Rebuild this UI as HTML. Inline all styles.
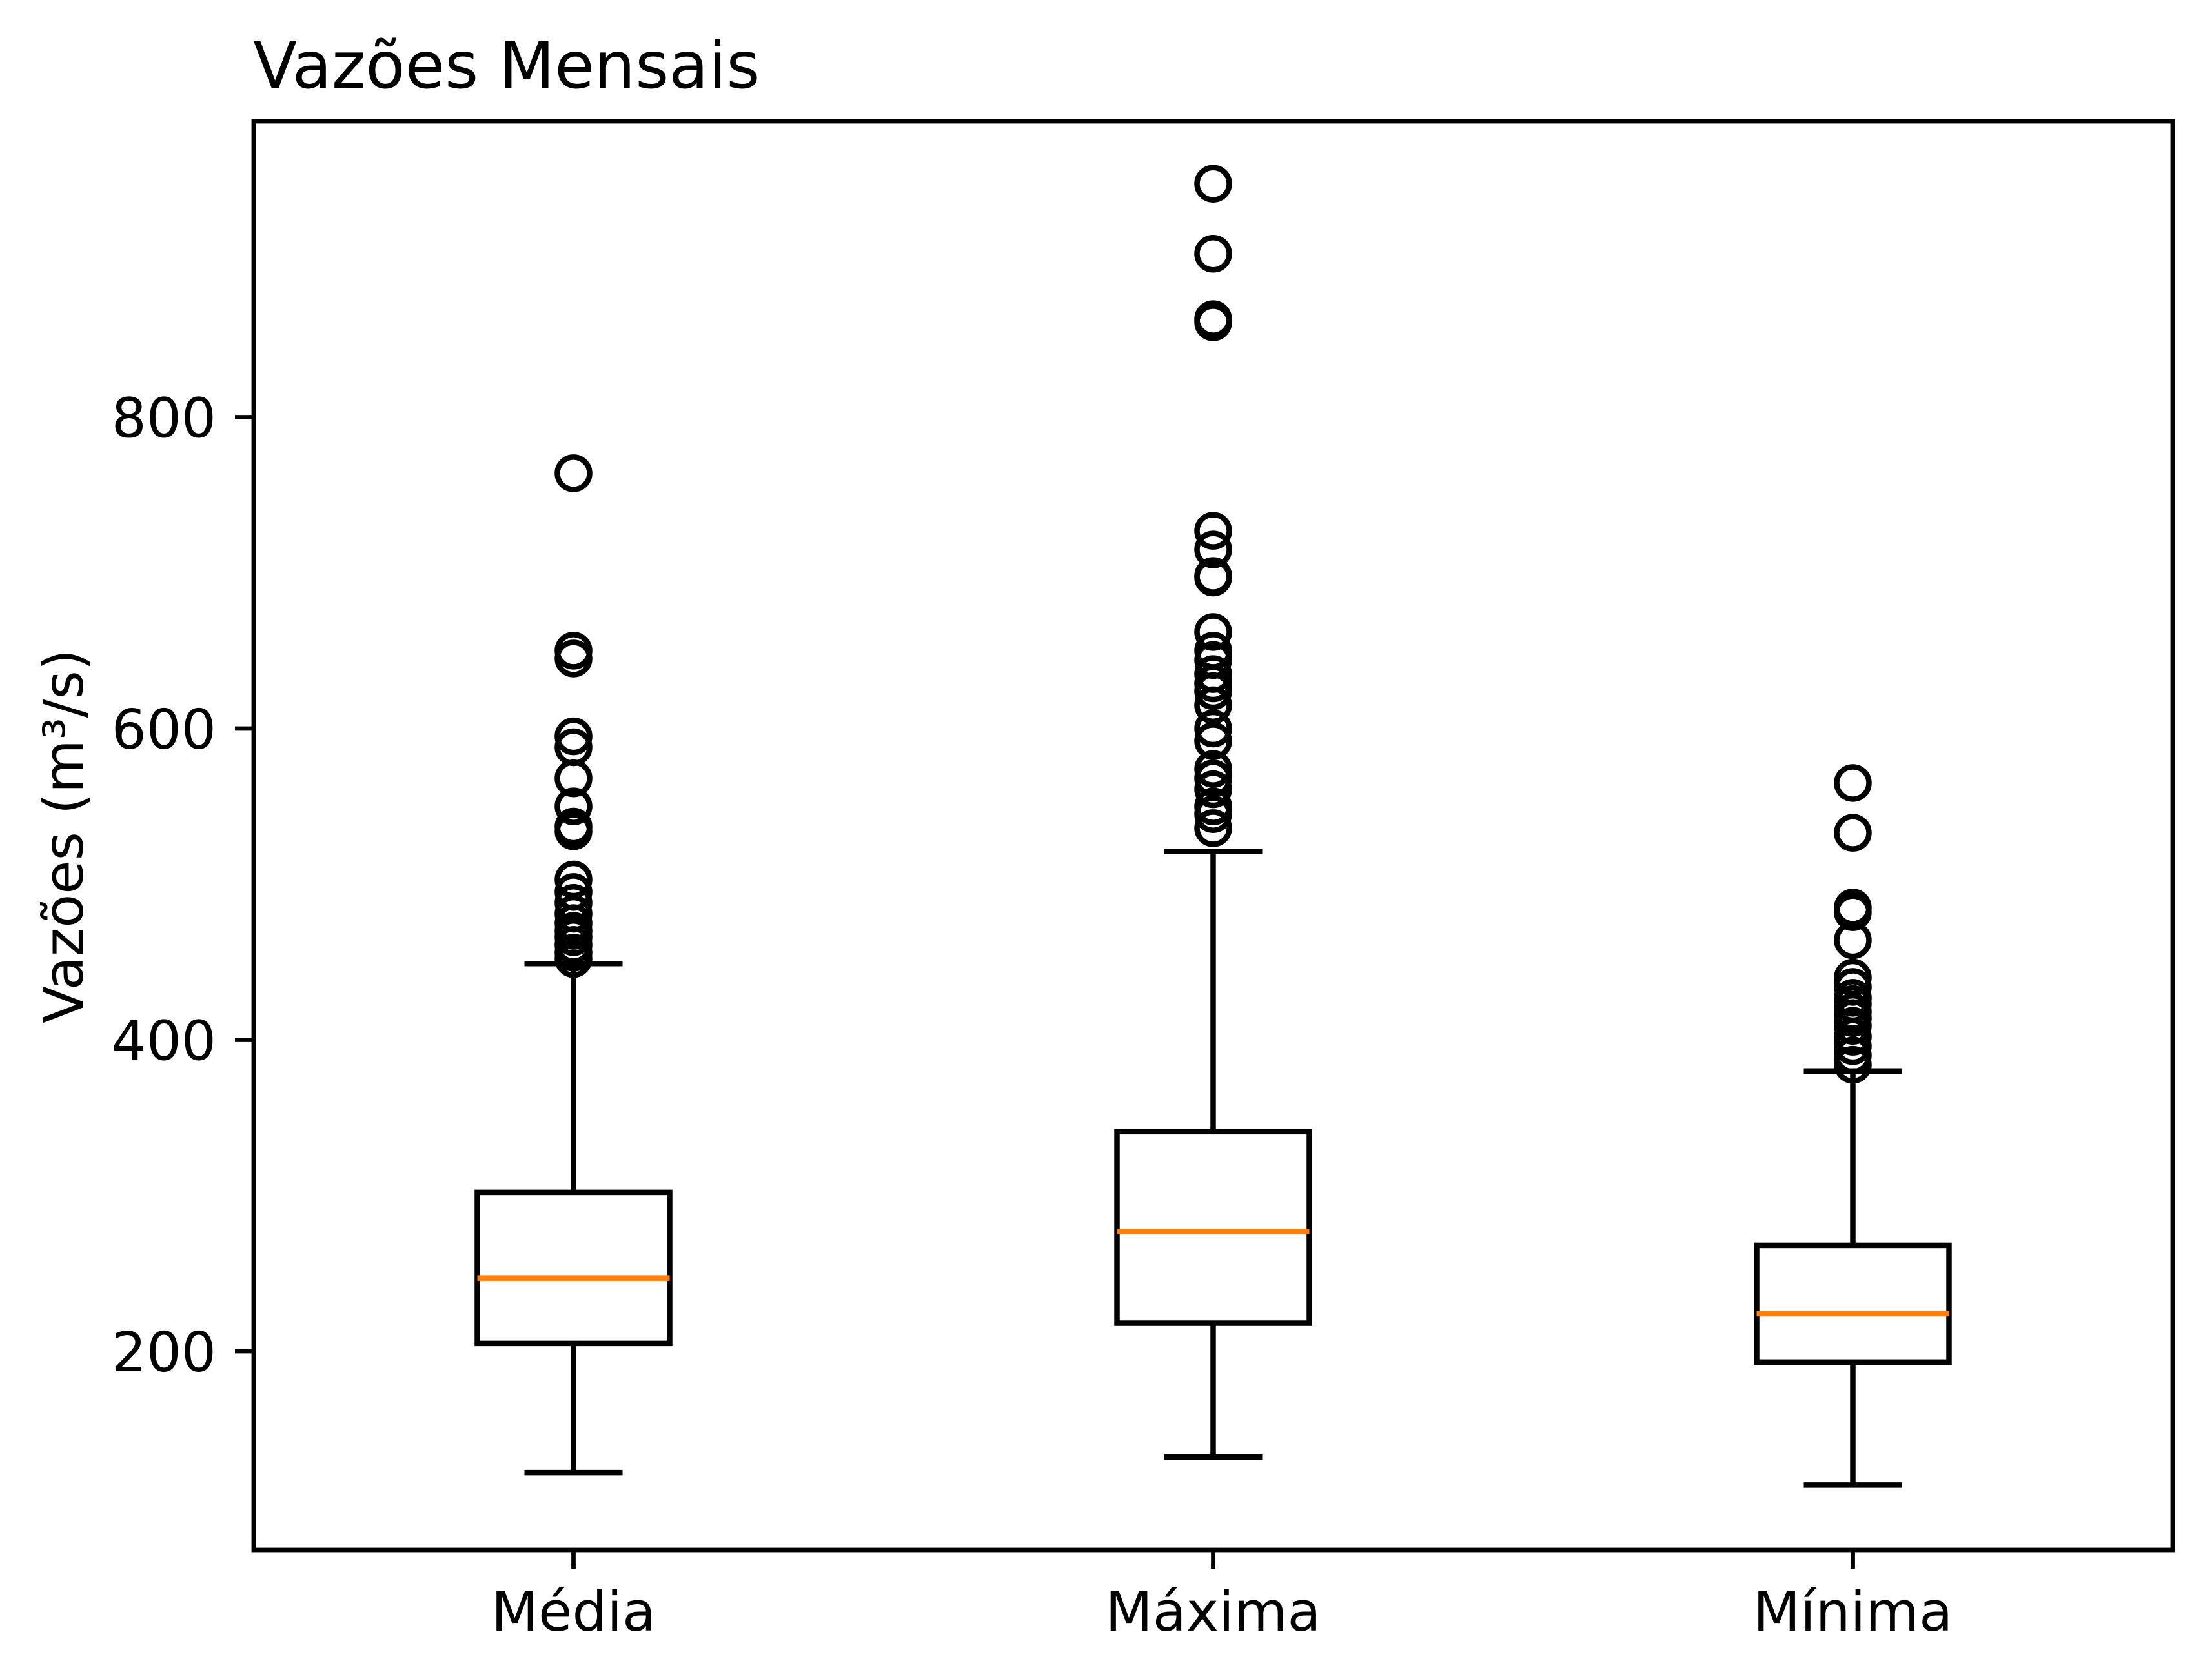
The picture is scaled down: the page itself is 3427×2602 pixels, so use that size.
<!DOCTYPE html>
<html><head><meta charset="utf-8">
<style>
html,body{margin:0;padding:0;background:#fff;}
svg{display:block;}
text{font-family:"DejaVu Sans","Liberation Sans",sans-serif;fill:#000;}
</style></head>
<body>
<svg id="chart" width="3427" height="2602" viewBox="0 0 3427 2602" xmlns="http://www.w3.org/2000/svg">
<rect width="3427" height="2602" fill="#fff"/>
<text x="392" y="136" font-size="100">Vazões Mensais</text>
<text transform="translate(128,1296) rotate(-90)" text-anchor="middle" font-size="85">Vazões (m³/s)</text>
<g id="plot"></g>
<rect x="393" y="188" width="2973" height="2214" fill="none" stroke="#000" stroke-width="6.8"/>
</svg>
<script>
const categories = ["Média", "Máxima", "Mínima"];
const whiskerLow = [122, 132, 114];
const q1 = [205, 218, 193];
const medians = [247, 277, 224];
const q3 = [302, 341, 268];
const whiskerHigh = [449, 521, 380];
const outliersMedia = [764, 650, 645, 595, 588, 568, 550, 537, 534, 503, 495, 488, 481, 475, 470, 466, 461, 456, 452];
const outliersMaxima = [950, 905, 863, 861, 727, 715, 698, 697, 662, 650, 644, 635, 629, 624, 615, 600, 592, 574, 568, 561, 550, 545, 536];
const outliersMinima = [565, 533, 485, 482, 464, 440, 434, 427, 423, 418, 414, 409, 402, 396, 390, 384];
const outliers = [outliersMedia, outliersMaxima, outliersMinima];
const yTicks = [200, 400, 600, 800];

const NS = "http://www.w3.org/2000/svg";
const L = 393, R = 3366, T = 188, B = 2402;
const yMin = 72.3, yMax = 990.1;
function yScale(v){ return B - (v - yMin) / (yMax - yMin) * (B - T); }
function xScale(i){ return L + (i + 0.5) / categories.length * (R - L); }
const plot = document.getElementById('plot');
function mk(tag, attrs){
  const e = document.createElementNS(NS, tag);
  for (const k in attrs) e.setAttribute(k, attrs[k]);
  plot.appendChild(e);
  return e;
}
const halfBox = 149, halfCap = 76, lw = 8.5;

yTicks.forEach(t => {
  const y = yScale(t);
  const tk = mk('line', {x1: L - 29, x2: L, y1: y, y2: y, stroke: '#000', 'stroke-width': 6.8});
  
  
  const lb = mk('text', {x: L - 58, y: y + 31, 'text-anchor': 'end', 'font-size': 85});
  lb.textContent = t;
  
  
});

categories.forEach((c, i) => {
  const x = xScale(i);
  const tk = mk('line', {x1: x, x2: x, y1: B, y2: B + 29, stroke: '#000', 'stroke-width': 6.8});
  
  
  const lb = mk('text', {x: x, y: 2527, 'text-anchor': 'middle', 'font-size': 85});
  lb.textContent = c;
  
  

  const wl = mk('line', {x1: x, x2: x, y1: yScale(whiskerLow[i]), y2: yScale(q1[i]), stroke: '#000', 'stroke-width': lw});
  
  
  const wh = mk('line', {x1: x, x2: x, y1: yScale(q3[i]), y2: yScale(whiskerHigh[i]), stroke: '#000', 'stroke-width': lw});
  
  
  const cl = mk('line', {x1: x - halfCap, x2: x + halfCap, y1: yScale(whiskerLow[i]), y2: yScale(whiskerLow[i]), stroke: '#000', 'stroke-width': lw});
  
  
  const ch = mk('line', {x1: x - halfCap, x2: x + halfCap, y1: yScale(whiskerHigh[i]), y2: yScale(whiskerHigh[i]), stroke: '#000', 'stroke-width': lw});
  
  
  const bx = mk('rect', {x: x - halfBox, y: yScale(q3[i]), width: 2 * halfBox, height: yScale(q1[i]) - yScale(q3[i]), fill: 'none', stroke: '#000', 'stroke-width': lw});
  
  
  const md = mk('line', {x1: x - halfBox, x2: x + halfBox, y1: yScale(medians[i]), y2: yScale(medians[i]), stroke: '#ff7f0e', 'stroke-width': lw});
  
  
  outliers[i].forEach((v, j) => {
    const o = mk('circle', {cx: x, cy: yScale(v), r: 25, fill: 'none', stroke: '#000', 'stroke-width': lw});
    
    
  });
});
</script>
</body></html>
